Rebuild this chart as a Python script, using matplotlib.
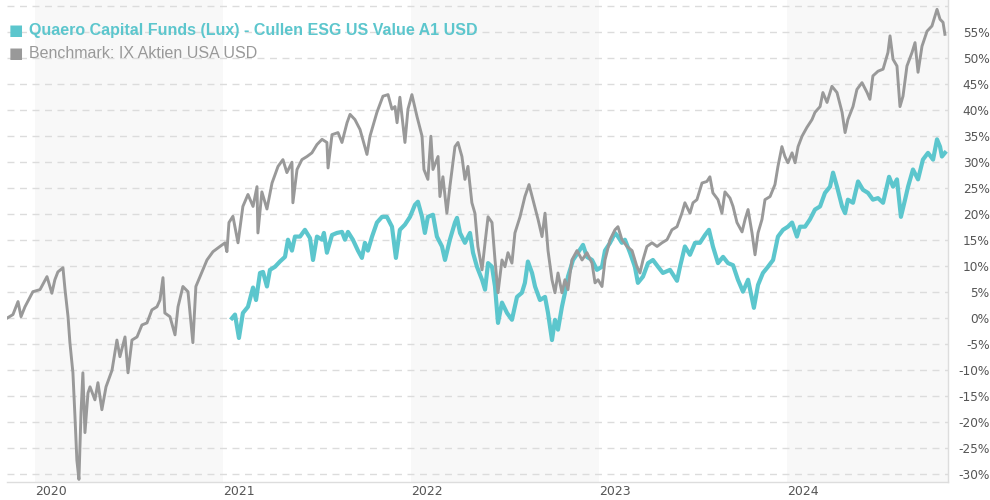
import matplotlib.pyplot as plt

# decimal years / cumulative performance in %
bench_t = [2019.851, 2019.883, 2019.910, 2019.926, 2019.947, 2019.989, 2020.027, 2020.064, 2020.090, 2020.106,
           2020.122, 2020.149, 2020.160, 2020.176, 2020.186, 2020.202, 2020.213, 2020.223, 2020.234, 2020.245,
           2020.255, 2020.266, 2020.282, 2020.293, 2020.319, 2020.335, 2020.356, 2020.378, 2020.410, 2020.436,
           2020.452, 2020.479, 2020.495, 2020.516, 2020.543, 2020.569, 2020.596, 2020.622, 2020.649, 2020.665,
           2020.681, 2020.691, 2020.718, 2020.745, 2020.761, 2020.787, 2020.814, 2020.840, 2020.856, 2020.878,
           2020.915, 2020.947, 2020.984, 2021.011, 2021.021, 2021.032, 2021.053, 2021.080, 2021.106, 2021.133,
           2021.160, 2021.181, 2021.186, 2021.207, 2021.234, 2021.261, 2021.293, 2021.319, 2021.340, 2021.367,
           2021.372, 2021.394, 2021.420, 2021.447, 2021.473, 2021.500, 2021.527, 2021.553, 2021.559, 2021.580,
           2021.612, 2021.633, 2021.660, 2021.676, 2021.702, 2021.729, 2021.766, 2021.782, 2021.819, 2021.851,
           2021.878, 2021.899, 2021.915, 2021.926, 2021.941, 2021.968, 2021.984, 2022.005, 2022.032, 2022.059,
           2022.069, 2022.090, 2022.106, 2022.117, 2022.144, 2022.154, 2022.170, 2022.191, 2022.207, 2022.234,
           2022.250, 2022.271, 2022.287, 2022.303, 2022.324, 2022.340, 2022.356, 2022.378, 2022.394, 2022.410,
           2022.431, 2022.447, 2022.463, 2022.484, 2022.500, 2022.516, 2022.537, 2022.553, 2022.580, 2022.606,
           2022.628, 2022.649, 2022.676, 2022.697, 2022.713, 2022.729, 2022.750, 2022.766, 2022.782, 2022.803,
           2022.819, 2022.835, 2022.856, 2022.883, 2022.910, 2022.936, 2022.963, 2022.979, 2022.995, 2023.016,
           2023.032, 2023.059, 2023.085, 2023.101, 2023.122, 2023.149, 2023.176, 2023.202, 2023.218, 2023.234,
           2023.255, 2023.282, 2023.309, 2023.335, 2023.362, 2023.388, 2023.415, 2023.441, 2023.457, 2023.484,
           2023.500, 2023.521, 2023.548, 2023.574, 2023.590, 2023.606, 2023.633, 2023.654, 2023.670, 2023.697,
           2023.713, 2023.734, 2023.761, 2023.777, 2023.793, 2023.814, 2023.830, 2023.846, 2023.867, 2023.883,
           2023.910, 2023.936, 2023.952, 2023.973, 2023.989, 2024.005, 2024.027, 2024.043, 2024.059, 2024.080,
           2024.106, 2024.133, 2024.149, 2024.176, 2024.191, 2024.213, 2024.239, 2024.266, 2024.293, 2024.309,
           2024.324, 2024.351, 2024.372, 2024.399, 2024.426, 2024.441, 2024.457, 2024.484, 2024.511, 2024.537,
           2024.548, 2024.564, 2024.585, 2024.601, 2024.617, 2024.638, 2024.665, 2024.681, 2024.697, 2024.718,
           2024.745, 2024.771, 2024.798, 2024.814, 2024.830, 2024.840]
bench_v = [0.0, 0.7, 3.2, 0.3, 2.2, 5.1, 5.5, 8.0, 4.8, 7.4,
           8.9, 9.7, 5.5, 0.3, -4.7, -10.5, -19.0, -27.3, -31.0, -18.2,
           -10.5, -22.0, -14.4, -13.2, -15.7, -12.4, -17.6, -13.2, -10.0, -4.2,
           -7.4, -3.6, -10.5, -4.2, -3.6, -1.3, -0.9, 1.6, 2.2, 3.5,
           7.8, 1.0, 0.3, -3.2, 2.2, 6.1, 5.1, -4.7, 6.1, 8.0,
           11.2, 12.8, 13.8, 14.5, 12.8, 18.4, 19.6, 14.5, 21.5, 23.8,
           21.5, 25.3, 16.4, 24.3, 21.0, 26.0, 29.2, 30.5, 28.0, 30.0,
           22.2, 28.6, 30.5, 31.1, 31.8, 33.4, 34.4, 33.8, 28.9, 35.3,
           35.7, 33.8, 37.6, 39.2, 38.2, 36.3, 31.5, 35.0, 39.6, 42.7,
           43.0, 40.2, 40.7, 37.6, 42.5, 33.8, 40.2, 43.0, 38.8, 35.0,
           28.6, 26.7, 35.0, 28.6, 31.1, 23.4, 27.2, 20.2, 25.3, 33.0,
           33.8, 31.1, 26.7, 29.2, 22.2, 20.2, 13.8, 9.3, 14.5, 19.5,
           18.4, 11.2, 4.9, 11.2, 9.9, 12.6, 10.6, 16.4, 19.5, 23.4,
           25.7, 22.8, 19.0, 15.7, 20.2, 13.0, 7.4, 4.9, 8.7, 4.9,
           7.4, 5.5, 11.2, 13.0, 11.2, 12.6, 10.6, 6.8, 7.4, 6.1,
           11.2, 15.1, 17.0, 17.6, 15.1, 13.8, 13.0, 9.9, 8.7, 11.2,
           13.8, 14.5, 13.8, 14.5, 15.1, 17.0, 17.6, 20.2, 22.2, 20.2,
           22.2, 22.8, 26.0, 26.3, 27.2, 24.1, 22.8, 20.2, 24.3, 23.1,
           21.5, 18.4, 16.6, 19.0, 20.9, 16.4, 12.2, 16.4, 19.0, 22.8,
           23.4, 25.7, 29.2, 33.0, 31.1, 29.9, 31.8, 29.9, 33.0, 35.0,
           36.7, 38.2, 39.6, 40.7, 43.4, 41.5, 44.6, 43.4, 39.6, 35.7,
           38.2, 40.7, 44.0, 45.3, 43.4, 42.1, 46.6, 47.5, 47.9, 51.1,
           54.3, 49.8, 48.5, 40.7, 42.7, 48.5, 51.1, 53.0, 47.3, 52.3,
           55.2, 56.2, 59.4, 57.5, 56.9, 54.6]

fund_t = [2021.048, 2021.064, 2021.085, 2021.106, 2021.133, 2021.160, 2021.176, 2021.197, 2021.213, 2021.234,
          2021.250, 2021.277, 2021.303, 2021.330, 2021.346, 2021.367, 2021.383, 2021.410, 2021.436, 2021.463,
          2021.479, 2021.500, 2021.527, 2021.537, 2021.553, 2021.580, 2021.606, 2021.633, 2021.649, 2021.665,
          2021.691, 2021.718, 2021.739, 2021.755, 2021.771, 2021.793, 2021.819, 2021.846, 2021.872, 2021.899,
          2021.920, 2021.941, 2021.968, 2021.995, 2022.021, 2022.037, 2022.059, 2022.074, 2022.090, 2022.117,
          2022.138, 2022.165, 2022.181, 2022.207, 2022.234, 2022.245, 2022.261, 2022.287, 2022.314, 2022.330,
          2022.351, 2022.378, 2022.394, 2022.410, 2022.431, 2022.447, 2022.463, 2022.484, 2022.511, 2022.537,
          2022.564, 2022.590, 2022.606, 2022.622, 2022.644, 2022.660, 2022.686, 2022.713, 2022.729, 2022.750,
          2022.766, 2022.782, 2022.803, 2022.819, 2022.835, 2022.862, 2022.888, 2022.915, 2022.936, 2022.963,
          2022.989, 2023.016, 2023.032, 2023.059, 2023.085, 2023.101, 2023.122, 2023.138, 2023.165, 2023.191,
          2023.207, 2023.234, 2023.261, 2023.287, 2023.314, 2023.340, 2023.378, 2023.415, 2023.431, 2023.457,
          2023.484, 2023.511, 2023.537, 2023.564, 2023.585, 2023.606, 2023.633, 2023.660, 2023.686, 2023.713,
          2023.739, 2023.766, 2023.793, 2023.824, 2023.846, 2023.872, 2023.899, 2023.926, 2023.952, 2023.979,
          2024.005, 2024.027, 2024.053, 2024.069, 2024.096, 2024.122, 2024.149, 2024.176, 2024.202, 2024.229,
          2024.245, 2024.266, 2024.293, 2024.309, 2024.324, 2024.351, 2024.378, 2024.404, 2024.431, 2024.457,
          2024.484, 2024.511, 2024.543, 2024.564, 2024.585, 2024.606, 2024.628, 2024.644, 2024.670, 2024.697,
          2024.723, 2024.750, 2024.777, 2024.798, 2024.814, 2024.824, 2024.840]
fund_v = [0.0, 0.7, -3.8, 1.0, 2.2, 5.9, 3.5, 8.7, 8.9, 6.1,
          9.3, 9.9, 10.9, 11.8, 15.1, 13.0, 15.7, 15.7, 17.0, 15.4,
          11.2, 15.7, 15.1, 16.4, 12.6, 16.0, 16.4, 16.6, 15.1, 16.6,
          15.1, 13.0, 11.6, 14.5, 13.0, 15.7, 18.4, 19.5, 19.5, 17.6,
          11.6, 17.0, 18.0, 19.5, 21.8, 22.4, 19.5, 16.4, 19.5, 19.9,
          15.7, 13.8, 11.2, 15.1, 18.4, 19.3, 16.4, 14.5, 16.4, 12.6,
          9.9, 7.4, 5.5, 10.6, 9.9, 6.1, -0.9, 3.0, 1.0, -0.3,
          4.1, 4.9, 6.8, 10.9, 8.7, 6.1, 3.5, 4.1, 1.0, -4.2,
          -0.3, -2.2, 2.2, 4.9, 8.0, 11.2, 12.6, 14.1, 11.8, 11.2,
          9.3, 9.9, 13.0, 14.5, 16.4, 15.7, 14.5, 15.1, 12.6, 9.9,
          6.8, 8.0, 10.6, 11.2, 9.9, 8.7, 9.3, 7.2, 9.9, 13.8,
          12.2, 14.5, 14.5, 16.0, 17.0, 13.8, 10.6, 11.8, 10.6, 10.2,
          7.4, 5.1, 7.4, 2.0, 6.4, 8.7, 9.9, 11.2, 15.7, 17.0,
          17.6, 18.4, 15.7, 17.6, 17.6, 19.0, 20.9, 21.5, 24.1, 25.3,
          28.0, 25.3, 21.5, 20.2, 22.8, 22.2, 26.3, 24.7, 24.1, 22.8,
          23.1, 22.2, 27.2, 25.3, 26.7, 19.5, 22.8, 25.3, 28.6, 26.7,
          30.5, 31.8, 30.5, 34.4, 33.0, 31.1, 31.8]

years = [2020, 2021, 2022, 2023, 2024]
shaded_years = [2020, 2022, 2024]
y_ticks = list(range(-30, 65, 5))

fund_name = "Quaero Capital Funds (Lux) - Cullen ESG US Value A1 USD"
bench_name = "Benchmark: IX Aktien USA USD"

teal = "#5cc6cd"
grey = "#999999"

fig = plt.figure(figsize=(9.9, 5), dpi=100)
ax = fig.add_axes([0.007, 0.036, 0.9505, 0.964])

for y in shaded_years:
    ax.axvspan(y, y + 1, color="#f8f8f8", lw=0, zorder=0)

ax.plot(fund_t, fund_v, color=teal, lw=3.0, zorder=3, solid_joinstyle="round")
ax.plot(bench_t, bench_v, color=grey, lw=2.1, zorder=4, solid_joinstyle="round")

ax.set_xlim(2019.851, 2024.856)
ax.set_ylim(-31.5, 61.2)

ax.set_yticks(y_ticks)
ax.set_yticklabels(["" if v == 60 else f"{v}%" for v in y_ticks])
ax.yaxis.tick_right()
ax.grid(axis="y", color="#dcdcdc", linestyle=(0, (5, 4)), linewidth=1, zorder=1)
ax.set_axisbelow(True)
for lbl in ax.get_yticklabels():
    lbl.set_horizontalalignment("right")
ax.tick_params(axis="y", length=0, pad=30, labelsize=8.7, labelcolor="#555555")

ax.set_xticks(years)
ax.set_xticklabels([str(y) for y in years])
for lbl in ax.get_xticklabels():
    lbl.set_horizontalalignment("left")
ax.tick_params(axis="x", length=0, pad=2.5, labelsize=9, labelcolor="#555555")

for side in ["left", "top"]:
    ax.spines[side].set_visible(False)
for side in ["right", "bottom"]:
    ax.spines[side].set_color("#dddddd")
    ax.spines[side].set_linewidth(1)

# legend as plain text on top of the plot
ax.text(0.002, 0.937, "\u25a0", transform=ax.transAxes, color=teal, fontsize=11,
        family="DejaVu Sans", va="center", zorder=6)
ax.text(0.023, 0.937, fund_name, transform=ax.transAxes, color=teal, fontsize=11.5,
        fontweight="bold", family="Liberation Sans", va="center", zorder=6)
ax.text(0.002, 0.890, "\u25a0", transform=ax.transAxes, color=grey, fontsize=11,
        family="DejaVu Sans", va="center", zorder=6)
ax.text(0.023, 0.890, bench_name, transform=ax.transAxes, color=grey, fontsize=11.5,
        family="Liberation Sans", va="center", zorder=6)

plt.savefig("out.png", dpi=100)
